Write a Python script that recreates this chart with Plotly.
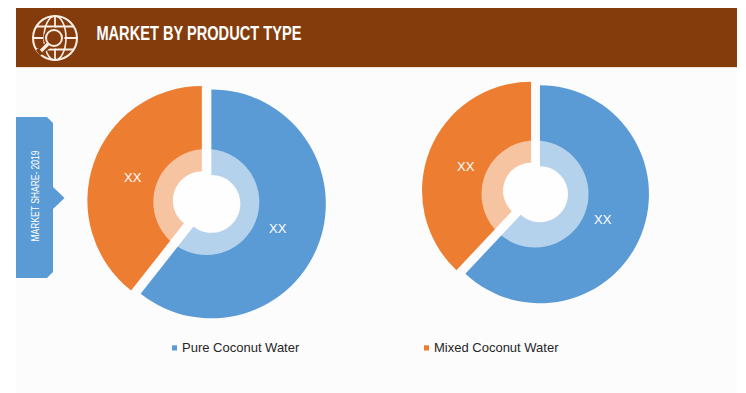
import plotly.graph_objects as go

W, H = 746, 393
CATEGORIES = ["Pure Coconut Water", "Mixed Coconut Water"]
LEFT_VALUES = [60.6, 39.4]
RIGHT_VALUES = [62, 38]
VALUE_LABELS = ["XX", "XX"]
TITLE = "MARKET BY PRODUCT TYPE"
SIDE_LABEL = "MARKET SHARE- 2019"

BLUE, ORANGE = "#5B9BD5", "#ED7D31"
BROWN, PANEL = "#843C0C", "#FCFCFC"


def px(x):
    return x / W


def py(y):
    return 1 - y / H


def pie(values, cx, cy, half, hole, pull):
    return go.Pie(
        labels=CATEGORIES, values=values, sort=False, direction="clockwise", rotation=0,
        hole=hole, pull=[pull, pull], textinfo="none", showlegend=False,
        marker=dict(colors=[BLUE, ORANGE], line=dict(width=0)),
        domain=dict(x=[px(cx - half), px(cx + half)], y=[py(cy + half), py(cy - half)]),
    )


fig = go.Figure([
    pie(LEFT_VALUES, 206.6, 202.2, 119.5, 0.253, 0.044),
    pie(RIGHT_VALUES, 535.5, 192.5, 113.8, 0.257, 0.044),
])

shapes = []


def rect(x0, y0, x1, y1, fill, layer="below"):
    shapes.append(dict(type="rect", xref="paper", yref="paper", x0=px(x0), x1=px(x1), y0=py(y1), y1=py(y0),
                       fillcolor=fill, line_width=0, layer=layer))


def circle(cx, cy, r, fill="rgba(0,0,0,0)", line=None, lw=0, ry=None, layer="above"):
    ry = r if ry is None else ry
    shapes.append(dict(type="circle", xref="paper", yref="paper", x0=px(cx - r), x1=px(cx + r),
                       y0=py(cy + ry), y1=py(cy - ry), fillcolor=fill, layer=layer,
                       line=dict(color=line or "rgba(0,0,0,0)", width=lw)))


def seg(x0, y0, x1, y1, lw=1.8, color="#FBEFE6"):
    shapes.append(dict(type="line", xref="paper", yref="paper", x0=px(x0), x1=px(x1), y0=py(y0), y1=py(y1),
                       line=dict(color=color, width=lw), layer="above"))


rect(16, 67, 737, 393, PANEL)
rect(16, 8, 737, 67, BROWN)
rect(16, 67, 737, 68, "#F3E4DA")

# side tab
pts = [(16, 117), (47, 117), (53, 123), (53, 187), (64.5, 198), (53, 209), (53, 272), (47, 278), (16, 278)]
shapes.append(dict(type="path", xref="paper", yref="paper", fillcolor=BLUE, line_width=0, layer="below",
                   path="M" + " L".join(f"{px(a):.5f},{py(b):.5f}" for a, b in pts) + " Z"))

# translucent rings over the doughnuts
circle(206.3, 202, 53, fill="rgba(255,255,255,0.55)")
circle(535, 194, 53.5, fill="rgba(255,255,255,0.55)")

# globe icon
ic, jc, R = 55, 38, 22
circle(ic, jc, R, line="#FBEFE6", lw=2)
circle(ic, jc, 11, ry=R, line="#FBEFE6", lw=1.6)
seg(ic, jc - R, ic, jc + R)
seg(ic - R, jc, ic + R, jc)
seg(ic - 18.5, jc - 11.5, ic + 18.5, jc - 11.5)
seg(ic - 18.5, jc + 11.5, ic + 18.5, jc + 11.5)
circle(54, 38, 10.5, fill=BROWN)
shapes.append(dict(type="line", xref="paper", yref="paper", x0=px(38), x1=px(51), y0=py(53), y1=py(43),
                   line=dict(color=BROWN, width=7), layer="above"))
circle(54, 38, 8, fill=BROWN, line="#FBEFE6", lw=2)
seg(41, 51, 48, 44, lw=3.2)

# legend markers
rect(172, 345.3, 177, 350.5, BLUE, "above")
rect(424, 345.3, 429, 350.5, ORANGE, "above")


def label(x, y, text, size, color="#FFFFFF", anchor="center", angle=0, family="Liberation Sans", weight=None):
    return dict(xref="paper", yref="paper", x=px(x), y=py(y), text=text, showarrow=False, xanchor=anchor,
                yanchor="middle", textangle=angle, font=dict(family=family, size=size, color=color, weight=weight))


annotations = [
    label(199, 32.5, TITLE, 19.5, weight=700),
    label(35, 195.5, SIDE_LABEL, 10, angle=-90),
    label(133, 177, VALUE_LABELS[1], 13),
    label(278, 228, VALUE_LABELS[0], 13),
    label(466, 166, VALUE_LABELS[1], 13),
    label(603, 219, VALUE_LABELS[0], 13),
    label(179.5, 347.5, CATEGORIES[0], 13, color="#262626", anchor="left"),
    label(432, 347.5, CATEGORIES[1], 13, color="#262626", anchor="left"),
]

fig.update_layout(width=W, height=H, margin=dict(l=0, r=0, t=0, b=0), paper_bgcolor="#FFFFFF",
                  plot_bgcolor="#FFFFFF", shapes=shapes, annotations=annotations, showlegend=False)

# The reference's header and side captions are set in a condensed face; squeeze the real text to fit.
squeeze = f"""
document.body.style.margin='0';document.body.style.overflow='hidden';
var widths = {{{TITLE!r}: 205, {SIDE_LABEL!r}: 91}};
document.querySelectorAll('.annotation-text').forEach(function (t) {{
  var w = widths[t.textContent];
  if (w) {{ t.setAttribute('textLength', w); t.setAttribute('lengthAdjust', 'spacingAndGlyphs'); }}
}});
"""
fig.write_html("out.html", config=dict(displayModeBar=False), post_script=squeeze)
